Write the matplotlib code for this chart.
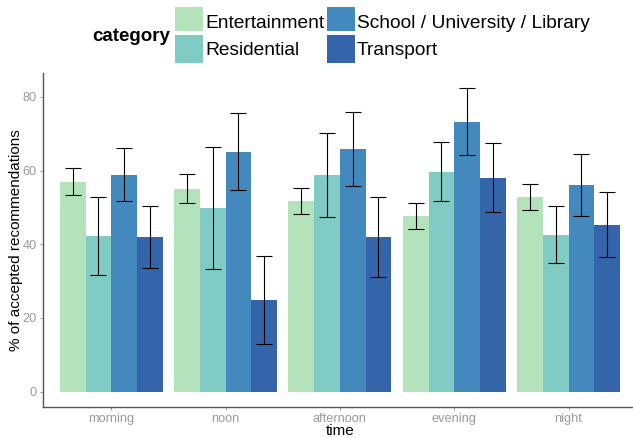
import matplotlib
matplotlib.use("Agg")
import matplotlib.pyplot as plt
from matplotlib.patches import Rectangle
import numpy as np

plt.rcParams["font.family"] = ["Liberation Sans", "DejaVu Sans"]

times = ["morning", "noon", "afternoon", "evening", "night"]
categories = ["Entertainment", "Residential", "School / University / Library", "Transport"]
colors = ["#b4e3bb", "#80cbc3", "#4389bd", "#3465aa"]

# mean share of accepted recommendations (%) per category, one value per time slot
entertainment = [57.0, 55.1, 51.8, 47.7, 52.9]
residential = [42.3, 49.9, 58.8, 59.7, 42.6]
school = [58.8, 65.1, 65.9, 73.3, 56.1]
transport = [42.0, 24.9, 42.0, 58.1, 45.3]

# half-width of the error bars
entertainment_err = [3.6, 4.0, 3.5, 3.6, 3.5]
residential_err = [10.6, 16.6, 11.3, 8.0, 7.7]
school_err = [7.2, 10.4, 10.0, 9.2, 8.4]
transport_err = [8.4, 12.0, 10.8, 9.4, 8.9]

means = [entertainment, residential, school, transport]
errs = [entertainment_err, residential_err, school_err, transport_err]

W, H = 633, 438
fig = plt.figure(figsize=(W / 100, H / 100), dpi=100)
ax = fig.add_axes([0.0675, 0.0715, 0.939, 0.762])

x = np.arange(1, len(times) + 1)
bw = 0.9 / len(categories)
for j, (m, e, c) in enumerate(zip(means, errs, colors)):
    xs = x + (j - 1.5) * bw
    ax.bar(xs, m, width=bw, color=c, edgecolor="none", zorder=2)
    ax.errorbar(xs, m, yerr=e, fmt="none", ecolor="black", elinewidth=0.8,
                capsize=5.5, capthick=0.8, zorder=3)

ax.set_xlim(0.4, 5.6)
ax.set_ylim(-4.1, 86.5)
ax.set_xticks(x)
ax.set_xticklabels(times)
ax.set_yticks([0, 20, 40, 60, 80])

for side in ["top", "right"]:
    ax.spines[side].set_visible(False)
for side in ["left", "bottom"]:
    ax.spines[side].set_color("#555555")
    ax.spines[side].set_linewidth(1.0)
ax.tick_params(axis="both", length=2.5, width=0.6, color="#888888",
               labelcolor="#999999", labelsize=9.2, pad=2)

ax.set_xlabel("time", fontsize=11, labelpad=-1)
ax.set_ylabel("% of accepted recommendations", fontsize=11, labelpad=-0.5)

# legend across the top: title on the left, 2x2 keys filled column by column
key_x = [175, 175, 327, 327]
key_rows = [(6.7, 31.0), (35.0, 62.5), (6.7, 31.0), (35.0, 62.5)]
baselines = [28, 55, 28, 55]
for c, label, kx, (top, bot), base in zip(colors, categories, key_x, key_rows, baselines):
    fig.patches.append(Rectangle((kx / W, 1 - bot / H), 27.5 / W, (bot - top) / H,
                                 transform=fig.transFigure, facecolor=c,
                                 edgecolor="none"))
    fig.text((kx + 30) / W, 1 - base / H, label, ha="left", va="baseline",
             fontsize=13.8)
fig.text(170 / W, 1 - 36.7 / H, "category", ha="right", va="center",
         fontsize=13.5, fontweight="bold")

fig.savefig("out.png", dpi=100)
